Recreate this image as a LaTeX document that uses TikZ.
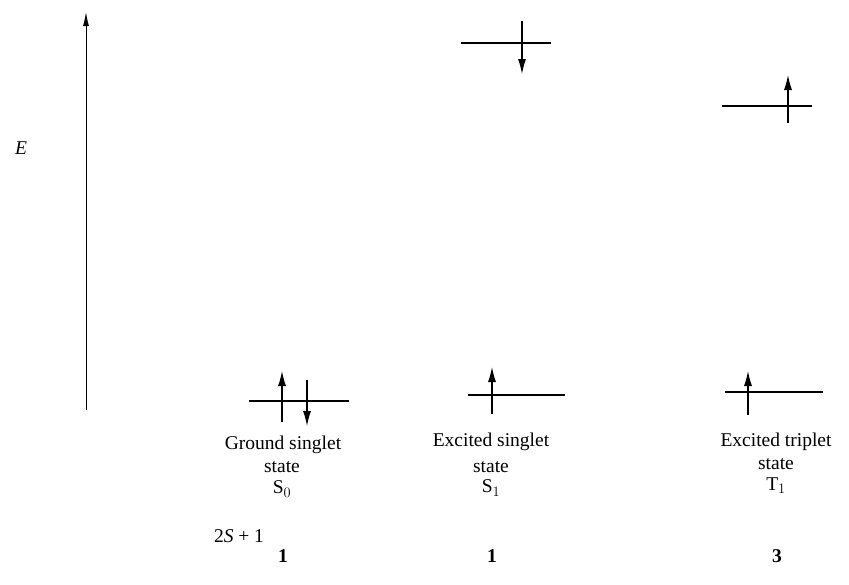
\documentclass[tikz,border=0pt]{standalone}
\usepackage{fontspec}
\setmainfont{Liberation Serif}
\usetikzlibrary{arrows.meta}
\begin{document}
\begin{tikzpicture}[x=1pt,y=-1pt,
  level/.style={line width=1.1pt},
  spin/.style={line width=1.1pt,-{Latex[length=15pt,width=8pt]}},
  axisline/.style={line width=1pt,-{Latex[length=14pt,width=6pt]}},
  lab/.style={font=\fontsize{19.5}{22}\selectfont,inner sep=0pt,anchor=center}]
\useasboundingbox (0,0) rectangle (849,584);
% energy axis
\coordinate (ax0) at (86,410);
\coordinate (ax1) at (86,12);
\draw[axisline] (ax0) -- (ax1);
\node[lab] (E) at (21,148) {\textit{E}};
% ground state S0
\coordinate (g0) at (249,401); \coordinate (g1) at (349,401);
\draw[level] (g0) -- (g1);
\coordinate (gu0) at (282,422); \coordinate (gu1) at (282,371);
\draw[spin] (gu0) -- (gu1);
\coordinate (gd0) at (307,380); \coordinate (gd1) at (307,426);
\draw[spin] (gd0) -- (gd1);
% excited singlet S1
\coordinate (s0) at (461,43); \coordinate (s1) at (551,43);
\draw[level] (s0) -- (s1);
\coordinate (sd0) at (522,21); \coordinate (sd1) at (522,74);
\draw[spin] (sd0) -- (sd1);
\coordinate (sb0) at (468,395); \coordinate (sb1) at (565,395);
\draw[level] (sb0) -- (sb1);
\coordinate (su0) at (492,414); \coordinate (su1) at (492,367);
\draw[spin] (su0) -- (su1);
% excited triplet T1
\coordinate (t0) at (722,106); \coordinate (t1) at (812,106);
\draw[level] (t0) -- (t1);
\coordinate (tu0) at (788,123); \coordinate (tu1) at (788,75);
\draw[spin] (tu0) -- (tu1);
\coordinate (tb0) at (725,392); \coordinate (tb1) at (823,392);
\draw[level] (tb0) -- (tb1);
\coordinate (tbu0) at (748,415); \coordinate (tbu1) at (748,371);
\draw[spin] (tbu0) -- (tbu1);
% labels
\node[lab] (l1a) at (283,445) {Ground singlet};
\node[lab] (l1b) at (282,467) {state};
\node[lab] (l1c) at (282,489) {S$_0$};
\node[lab] (l2a) at (491,442) {Excited singlet};
\node[lab] (l2b) at (491,467) {state};
\node[lab] (l2c) at (491,488) {S$_1$};
\node[lab] (l3a) at (776,442) {Excited triplet};
\node[lab] (l3b) at (776,464) {state};
\node[lab] (l3c) at (776,486) {T$_1$};
\node[lab] (m0) at (239,536) {2\textit{S} + 1};
\node[lab] (m1) at (283,556) {\textbf{1}};
\node[lab] (m2) at (492,556) {\textbf{1}};
\node[lab] (m3) at (777,556) {\textbf{3}};
\end{tikzpicture}
\end{document}
